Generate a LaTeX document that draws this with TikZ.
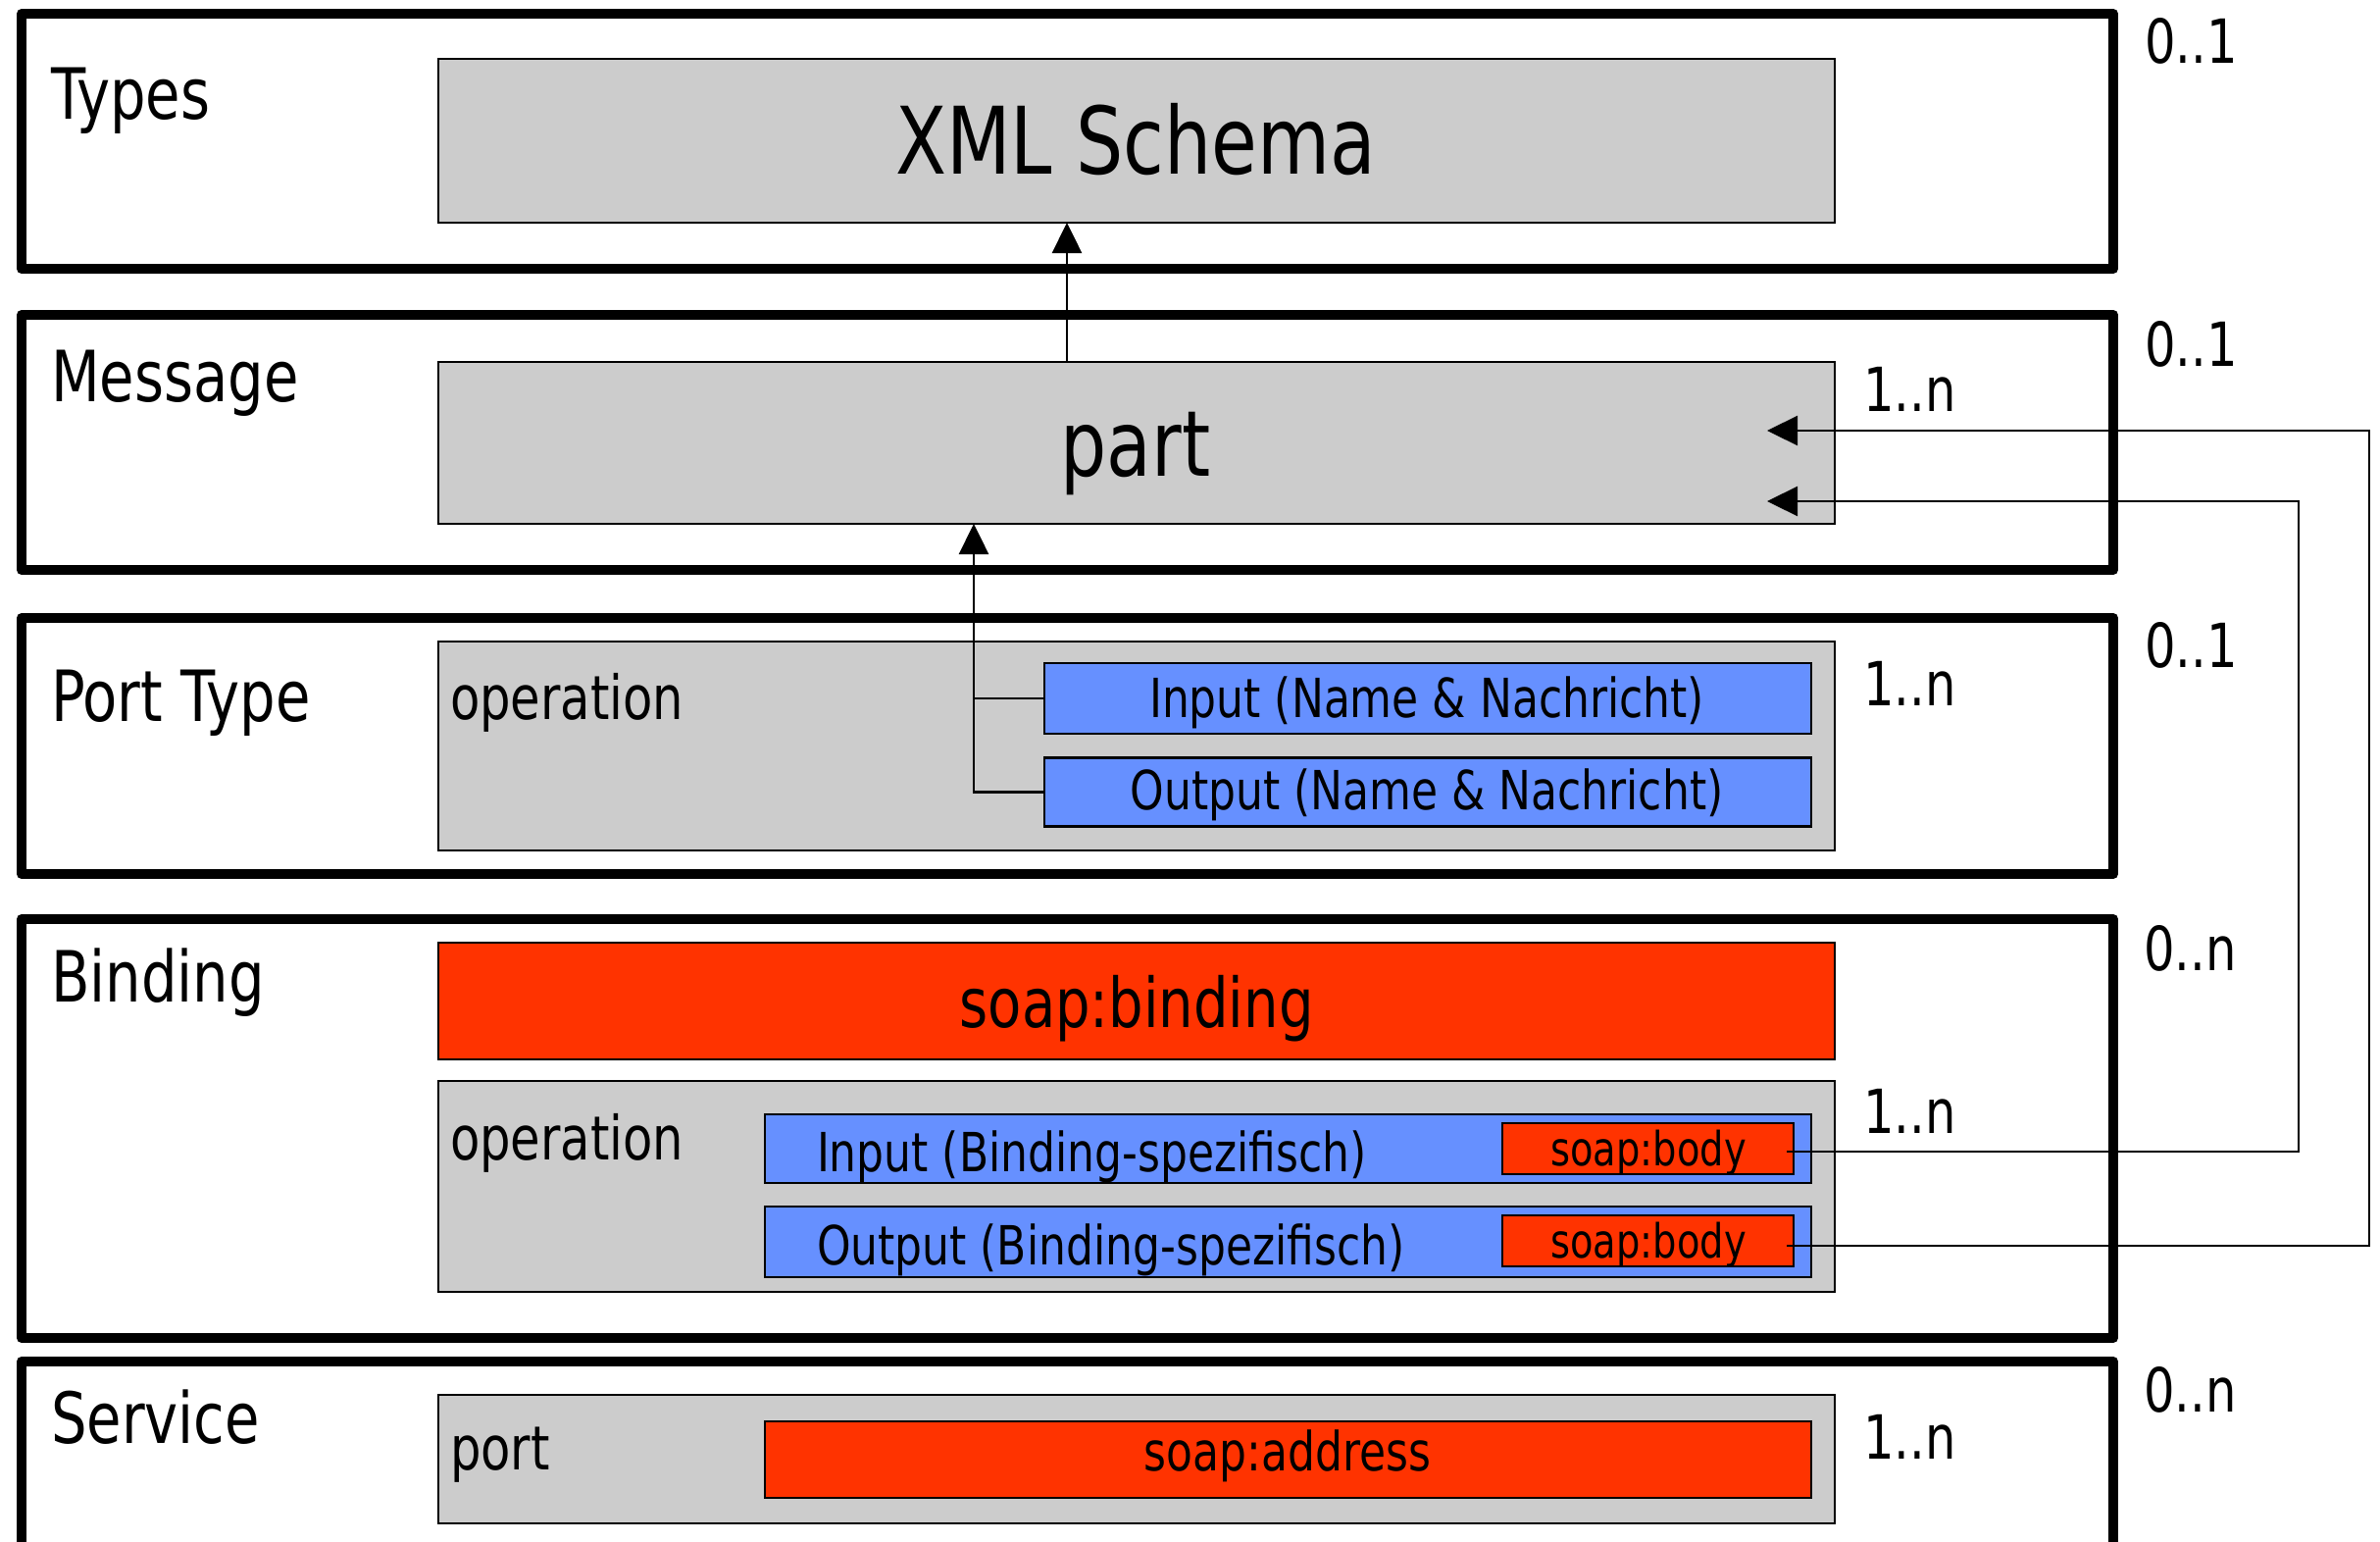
\documentclass[tikz,border=0pt]{standalone}
\usepackage{fontspec}
\setmainfont{DejaVu Sans}[FakeStretch=0.8]
\usetikzlibrary{arrows.meta}
\definecolor{boxgray}{HTML}{CCCCCC}
\definecolor{partblue}{HTML}{6690FF}
\definecolor{soapred}{HTML}{FF3300}

\begin{document}
\begin{tikzpicture}[x=1pt,y=-1pt,
  section/.style={draw, line width=10pt, line join=round, inner sep=0pt, outer sep=0pt},
  gbox/.style={draw, line width=2.2pt, fill=boxgray, inner sep=0pt, outer sep=0pt},
  bbox/.style={draw, line width=2.5pt, fill=partblue, inner sep=0pt, outer sep=0pt},
  rbox/.style={draw, line width=2.5pt, fill=soapred, inner sep=0pt, outer sep=0pt},
  txt/.style={inner sep=0pt, outer sep=0pt},
  bigfont/.style={txt, font=\fontsize{93}{93}\selectfont},
  secfont/.style={txt, anchor=base west, font=\fontsize{72}{72}\selectfont},
  opfont/.style={txt, anchor=base west, font=\fontsize{62}{62}\selectfont},
  subfont/.style={txt, font=\fontsize{55}{55}\selectfont},
  bodyfont/.style={txt, anchor=base, font=\fontsize{48}{48}\selectfont},
  multfont/.style={txt, anchor=base west, font=\fontsize{62}{62}\selectfont},
  conn/.style={line width=2.5pt},
  arr/.style={conn, -{Triangle[length=31pt,width=30pt]}}]

\useasboundingbox (0,0) rectangle (2427,1571);
\clip (0,0) rectangle (2427,1571);

% section frames
\node[section, minimum width=2133pt, minimum height=260pt] (types)    at (1088.5,144) {};
\node[section, minimum width=2133pt, minimum height=260pt] (message)  at (1088.5,451) {};
\node[section, minimum width=2133pt, minimum height=261pt] (porttype) at (1088.5,760.5) {};
\node[section, minimum width=2133pt, minimum height=427pt] (binding)  at (1088.5,1150.5) {};
\node[section, minimum width=2133pt, minimum height=262pt] (service)  at (1088.5,1519) {};

% grey element boxes
\node[gbox, minimum width=1424pt, minimum height=167pt] (xml)   at (1159,143.5) {};
\node[gbox, minimum width=1424pt, minimum height=165pt] (part)  at (1159,451.5) {};
\node[gbox, minimum width=1424pt, minimum height=213pt] (ptop)  at (1159,760.5) {};
\node[rbox, minimum width=1424pt, minimum height=119pt] (sbind) at (1159,1020.5) {};
\node[gbox, minimum width=1424pt, minimum height=215pt] (bop)   at (1159,1209.5) {};
\node[gbox, minimum width=1424pt, minimum height=131pt] (sport) at (1159,1487.5) {};

% port type messages
\node[bbox, minimum width=782pt, minimum height=72pt] (ptin)  at (1456,712) {};
\node[bbox, minimum width=782pt, minimum height=70pt] (ptout) at (1456,807.5) {};

% binding messages
\node[bbox, minimum width=1067pt, minimum height=70pt] (bin)  at (1313.5,1171) {};
\node[bbox, minimum width=1067pt, minimum height=72pt] (bout) at (1313.5,1266) {};
\node[rbox, minimum width=297pt, minimum height=52pt] (bodyin)  at (1680.5,1171) {};
\node[rbox, minimum width=297pt, minimum height=52pt] (bodyout) at (1680.5,1265) {};

% service address
\node[rbox, minimum width=1067pt, minimum height=78pt] (addr) at (1313.5,1488) {};

% connector ends
\coordinate (xarr) at (1088,0);
\coordinate (ptjoin) at (993,534);
\coordinate (tip1) at (1802,511);
\coordinate (tip2) at (1802,439);
\coordinate (r1) at (2344,0);
\coordinate (r2) at (2416,0);

% part -> XML Schema
\draw[arr] (part.north -| xarr) -- (xml.south -| xarr);
% port type messages -> part
\draw[conn] (ptin.west) -- (ptin.west -| ptjoin);
\draw[arr] (ptout.west) -| (ptjoin);
% soap:body -> part
\draw[arr] ([xshift=-7pt,yshift=-3pt]bodyin.east) -| (r1 |- tip1) -- (tip1);
\draw[arr] ([xshift=-7pt,yshift=-5pt]bodyout.east) -| (r2 |- tip2) -- (tip2);

% section titles
\node[secfont] (tTypes)    at (52,121)  {Types};
\node[secfont] (tMessage)  at (52,409)  {Message};
\node[secfont] (tPortType) at (52,735)  {Port Type};
\node[secfont] (tBinding)  at (52,1021) {Binding};
\node[secfont] (tService)  at (52,1471) {Service};

% box texts
\node[txt, anchor=base, font=\fontsize{95}{95}\selectfont] (tXml) at (1158,177) {XML Schema};
\node[bigfont, anchor=base] (tPart) at (1158,485) {part};
\node[opfont] (tPtOp)  at (459,733)  {operation};
\node[opfont] (tBOp)   at (459,1182) {operation};
\node[opfont] (tPort)  at (459,1498) {port};
\node[subfont, anchor=base] (tPtIn)  at (1455,731) {Input (Name \& Nachricht)};
\node[subfont, anchor=base] (tPtOut) at (1455,825) {Output (Name \& Nachricht)};
\node[txt, anchor=base, font=\fontsize{70}{70}\selectfont] (tSBind) at (1159,1047) {soap:binding};
\node[subfont, anchor=base west] (tBIn)  at (833,1194) {Input (Binding-spezifisch)};
\node[subfont, anchor=base west] (tBOut) at (833,1289) {Output (Binding-spezifisch)};
\node[bodyfont] (tBodyIn)  at (1681,1188) {soap:body};
\node[bodyfont] (tBodyOut) at (1681,1282) {soap:body};
\node[subfont, anchor=base] (tAddr) at (1313,1499) {soap:address};

% multiplicities
\node[multfont] (mTypes)   at (2187,64)   {0..1};
\node[multfont] (mMessage) at (2187,373)  {0..1};
\node[multfont] (mPort)    at (2187,680)  {0..1};
\node[multfont] (mBinding) at (2186,989)  {0..n};
\node[multfont] (mService) at (2186,1439) {0..n};
\node[multfont] (nPart)    at (1900,419)  {1..n};
\node[multfont] (nPtOp)    at (1900,719)  {1..n};
\node[multfont] (nBOp)     at (1900,1155) {1..n};
\node[multfont] (nPort)    at (1900,1487) {1..n};
\end{tikzpicture}
\end{document}
